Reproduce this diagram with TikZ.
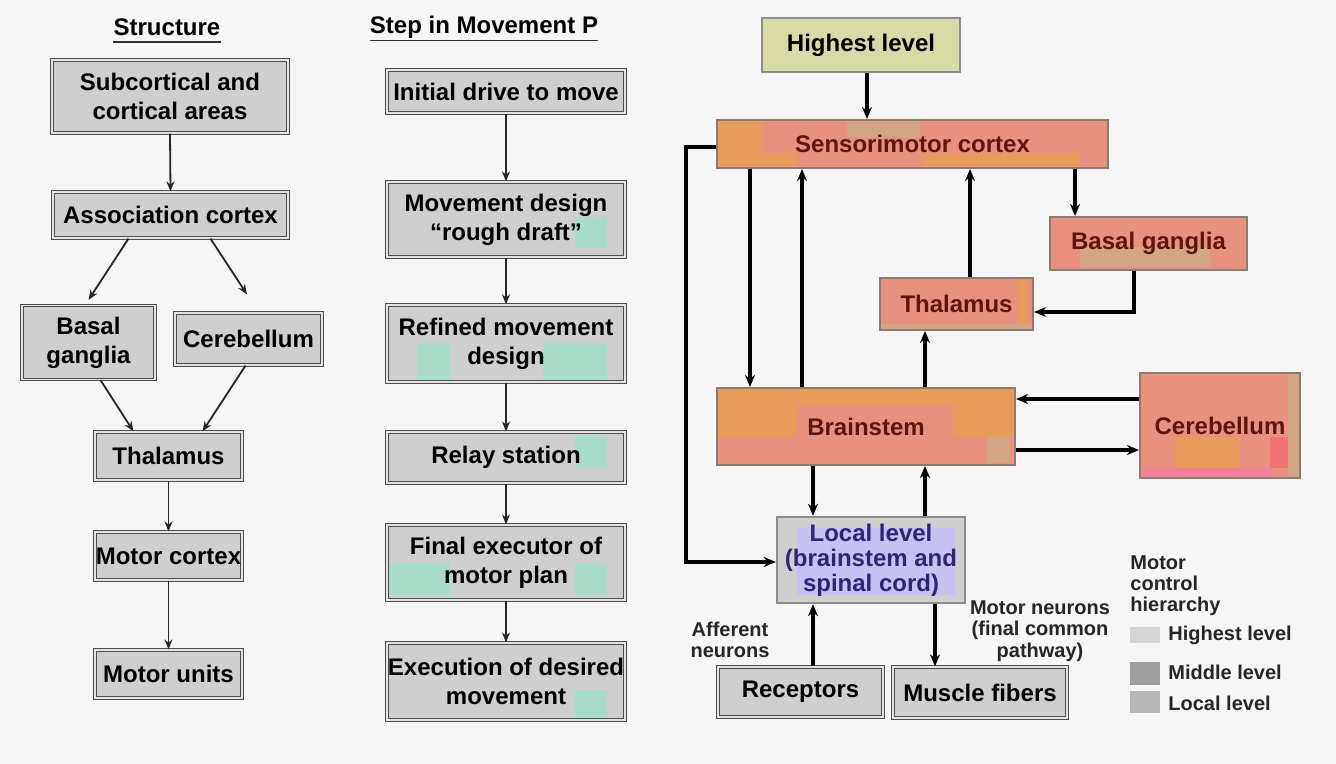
\documentclass[tikz,border=0pt]{standalone}
\usepackage{fontspec}
\setmainfont{Liberation Sans}
\usetikzlibrary{arrows.meta}
\definecolor{bgc}{HTML}{F6F6F6}
\definecolor{boxgray}{HTML}{CFCFCF}
\definecolor{boxline}{HTML}{4D4D4D}
\definecolor{dbl}{HTML}{E4E4E4}
\definecolor{tealc}{HTML}{A9DCC9}
\definecolor{salmon}{HTML}{E8917F}
\definecolor{orng}{HTML}{E89C5C}
\definecolor{tanc}{HTML}{D2A585}
\definecolor{pinkc}{HTML}{F2809A}
\definecolor{redp}{HTML}{F07474}
\definecolor{hlv}{HTML}{D8DBA8}
\definecolor{lav}{HTML}{C8C2F2}
\definecolor{maroonc}{HTML}{5E1510}
\definecolor{navyc}{HTML}{2E2478}
\definecolor{sline}{HTML}{8C7B74}
\tikzset{
  lbl/.style={font=\bfseries\fontsize{12}{14.5}\selectfont, align=center, inner sep=0pt, text=black},
  small/.style={font=\bfseries\fontsize{10}{10.5}\selectfont, align=center, inner sep=0pt, text=black!85},
  gbox/.style={lbl, draw=boxline, line width=0.6pt, double=dbl, double distance=0.6pt, fill=boxgray},
  hbox/.style={lbl, draw=black!45, line width=1.2pt, fill=hlv},
  sbox/.style={lbl, draw=sline, line width=1pt, fill=salmon, text=maroonc},
  lbox/.style={lbl, font=\bfseries\fontsize{12}{12.5}\selectfont, draw=black!45, line width=1.2pt, fill=boxgray, text=navyc},
  patches/.style={path picture={#1}},
  arrL/.style={line width=0.9pt, draw=black!85, -{Stealth[length=5pt,width=4pt]}},
  arrR/.style={line width=1.6pt, -{Stealth[length=6pt,width=5pt]}},
  uline/.style={line width=0.9pt, draw=black!80},
}
% patch: colour, x1, y1, x2, y2 (pt, measured from the box's south-west corner, y upwards)
\newcommand\pp[5]{\fill[#1] ([xshift=#2pt,yshift=#3pt]path picture bounding box.south west) rectangle ([xshift=#4pt,yshift=#5pt]path picture bounding box.south west);}
\newcommand\tp[4]{\pp{tealc}{#1}{#2}{#3}{#4}}
\begin{document}
\begin{tikzpicture}[x=0.5pt,y=-0.5pt]
\fill[bgc] (0,0) rectangle (1336,764);
\useasboundingbox (0,0) rectangle (1336,764);

% ---------- column 1: Structure ----------
\node[lbl] (t1) at (167,27) {Structure};
\draw[uline] ([yshift=-3pt]t1.south west) -- ([yshift=-3pt]t1.south east);
\node[gbox, minimum width=118pt, minimum height=36.5pt] (sub) at (170,96.5) {Subcortical and\\cortical areas};
\node[gbox, minimum width=117.5pt, minimum height=23pt] (assoc) at (170.5,215) {Association cortex};
\node[gbox, minimum width=66.5pt, minimum height=37pt] (bgL) at (88.5,342.5) {Basal\\ganglia};
\node[gbox, minimum width=73.5pt, minimum height=26pt] (cbL) at (248.5,339) {Cerebellum};
\node[gbox, minimum width=73.5pt, minimum height=24pt] (thL) at (168.5,456) {Thalamus};
\node[gbox, minimum width=73.5pt, minimum height=24pt] (mcL) at (168.5,556) {Motor cortex};
\node[gbox, minimum width=73.5pt, minimum height=24pt] (muL) at (168.5,674) {Motor units};

\draw[arrL] (sub.south) -- (assoc.north);
\draw[arrL] ([xshift=-21pt]assoc.south) -- ([yshift=2.5pt]bgL.north);
\draw[arrL] ([xshift=20pt]assoc.south) -- ([xshift=-0.75pt,yshift=9pt]cbL.north);
\draw[arrL] ([xshift=6pt]bgL.south) -- ([xshift=-17.5pt]thL.north);
\draw[arrL] ([xshift=-1.5pt]cbL.south) -- ([xshift=17pt]thL.north);
\draw[arrL] (thL.south) -- (mcL.north);
\draw[arrL] (mcL.south) -- (muL.north);

% ---------- column 2: Step in Movement ----------
\node[lbl] (t2) at (484,27) {Step in Movement P};
\draw[uline] ([yshift=-1pt]t2.south west) -- ([yshift=-1pt]t2.south east);
\node[gbox, minimum width=119pt, minimum height=21.5pt] (init) at (506,91.5) {Initial drive to move};
\node[gbox, minimum width=119pt, minimum height=37.5pt, patches={\tp{94}{4.5}{110}{20}}] (mdes) at (506,219.5) {Movement design\\\textquotedblleft rough draft\textquotedblright};
\node[gbox, minimum width=119pt, minimum height=38.5pt, patches={\tp{15}{1}{31.5}{19.5}\tp{78}{1}{110}{19.5}}] (ref) at (506,343.5) {Refined movement\\design};
\node[gbox, minimum width=119pt, minimum height=25.5pt, patches={\tp{94}{7.5}{110}{24}}] (relay) at (506,457.5) {Relay station};
\node[gbox, minimum width=119pt, minimum height=37.5pt, patches={\tp{0}{2.5}{31.5}{18.5}\tp{94}{2.5}{110}{18.5}}] (fin) at (506,562.5) {Final executor of\\motor plan};
\node[gbox, minimum width=119pt, minimum height=38.5pt, patches={\tp{94}{0}{110}{15}}] (exec) at (506,681.5) {Execution of desired\\movement};

\draw[arrL] (init.south) -- (mdes.north);
\draw[arrL] (mdes.south) -- (ref.north);
\draw[arrL] (ref.south) -- (relay.north);
\draw[arrL] (relay.south) -- (fin.north);
\draw[arrL] (fin.south) -- (exec.north);

% ---------- column 3: hierarchy ----------
\node[hbox, minimum width=99pt, minimum height=27pt] (high) at (861,45) {Highest level};
\node[sbox, minimum width=195.5pt, minimum height=24pt,
  patches={\pp{orng}{0}{0}{23}{24}\pp{orng}{0}{0}{40}{7.5}\pp{orng}{103}{0}{181.5}{7.5}\pp{tanc}{65}{15.5}{101.5}{24}}]
  (smc) at (912.5,144) {Sensorimotor cortex};
\node[sbox, minimum width=98.5pt, minimum height=26.5pt,
  patches={\pp{tanc}{15}{1.5}{80}{11.5}}] (bgR) at (1148.5,243.5) {Basal ganglia};
\node[sbox, minimum width=76.5pt, minimum height=26pt,
  patches={\pp{orng}{69}{0}{74}{26}\pp{tanc}{0}{0}{76.5}{3}}] (thR) at (956.5,304) {Thalamus};
\node[sbox, minimum width=149pt, minimum height=38.5pt,
  patches={\pp{orng}{0}{30}{149}{38.5}\pp{orng}{0}{14}{40}{30}\pp{orng}{118}{14}{149}{30}\pp{tanc}{135}{1}{146.5}{14}}]
  (bs) at (866,426.5) {Brainstem};
\node[sbox, minimum width=80pt, minimum height=52.5pt,
  patches={\pp{orng}{17.5}{5}{50}{20.5}\pp{pinkc}{1.5}{0}{66}{5}\pp{redp}{65}{5}{74}{20.5}\pp{tanc}{74}{0}{80}{52.5}}]
  (cbR) at (1220,425.5) {Cerebellum};
\node[lbox, minimum width=94pt, minimum height=43pt,
  patches={\pp{lav}{10}{4}{89}{37.5}}] (loc) at (871,560) {Local level\\(brainstem and\\spinal cord)};
\node[gbox, minimum width=82.5pt, minimum height=25pt] (rec) at (800.5,692) {Receptors};
\node[gbox, minimum width=87pt, minimum height=25.5pt] (mf) at (980,692.5) {Muscle fibers};

\draw[arrR] (high.south -| 867,0) -- (smc.north -| 867,0);
\draw[arrR] ([yshift=-1.5pt]smc.west) -- ++(-15pt,0) |- ([yshift=-1pt]loc.west);
\draw[arrR] (smc.south -| 750,0) -- (bs.north -| 750,0);
\draw[arrR] (bs.north -| 802,0) -- (smc.south -| 802,0);
\draw[arrR] (thR.north -| 970,0) -- (smc.south -| 970,0);
\draw[arrR] (smc.south -| 1075,0) -- (bgR.north -| 1075,0);
\draw[arrR] (bgR.south -| 1134,0) |- ([yshift=-4pt]thR.east);
\draw[arrR] (bs.north -| 925,0) -- (thR.south -| 925,0);
\draw[arrR] (cbR.west |- 0,399) -- (bs.east |- 0,399);
\draw[arrR] (bs.east |- 0,450) -- (cbR.west |- 0,450);
\draw[arrR] (bs.south -| 813,0) -- (loc.north -| 813,0);
\draw[arrR] (loc.north -| 925,0) -- (bs.south -| 925,0);
\draw[arrR] (rec.north -| 813,0) -- (loc.south -| 813,0);
\draw[arrR] (loc.south -| 935,0) -- (mf.north -| 935,0);

\node[small] (aff) at (730,640) {Afferent\\neurons};
\node[small, font=\bfseries\fontsize{10}{10.75}\selectfont] (mn) at (1040,631) {Motor neurons\\(final common\\pathway)};

% ---------- legend ----------
\node[small, align=left, anchor=west, font=\bfseries\fontsize{10}{10.5}\selectfont] (leg) at (1130,586) {Motor\\control\\hierarchy};
\fill[black!17] (1130,627) rectangle (1160,643);
\fill[black!38] (1130,662) rectangle (1160,685);
\fill[black!28] (1130,691) rectangle (1160,713);
\node[small, anchor=west] (lh) at (1168,635) {Highest level};
\node[small, anchor=west] (lm) at (1168,672) {Middle level};
\node[small, anchor=west] (ll) at (1168,703) {Local level};
\end{tikzpicture}
\end{document}
